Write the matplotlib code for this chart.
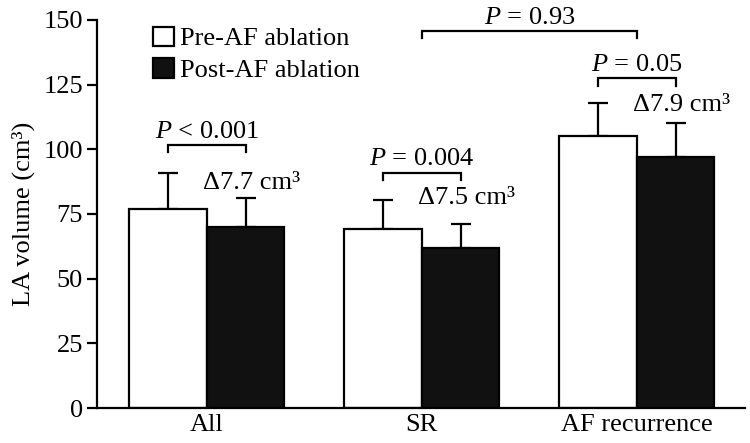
import matplotlib
matplotlib.use('Agg')
import numpy as np
import matplotlib.pyplot as plt

# ===========================
# Dados
# ===========================

groups = ['All', 'SR', 'AF recurrence']
pre_mean = [77, 69, 105]
post_mean = [70, 62, 97]
pre_sd = [14, 11.5, 12.7]
post_sd = [11, 9.2, 13]

delta_labels = ['Δ7.7 cm³', 'Δ7.5 cm³', 'Δ7.9 cm³']
delta_y = [87, 81, 117]

p_within = ['< 0.001', '= 0.004', '= 0.05']
p_within_y = [101.7, 91, 127.4]
p_between = '= 0.93'
p_between_y = 145.7

# ===========================
# Estilo
# ===========================

plt.rcParams['font.family'] = ['Liberation Serif', 'DejaVu Serif']
plt.rcParams['mathtext.fontset'] = 'custom'
plt.rcParams['mathtext.rm'] = 'Liberation Serif'
plt.rcParams['mathtext.it'] = 'Liberation Serif:italic'
plt.rcParams['font.size'] = 19

LW = 1.6
W = 0.36
LEG = 2.8

fig = plt.figure(figsize=(7.5, 4.43), dpi=100)
ax = fig.add_axes([0.129, 0.079, 0.864, 0.876])

x = np.arange(len(groups))
ax.bar(x - W / 2, pre_mean, W, color='white', edgecolor='black', linewidth=LW,
       label='Pre-AF ablation', zorder=2)
ax.bar(x + W / 2, post_mean, W, color='#111111', edgecolor='black', linewidth=LW,
       label='Post-AF ablation', zorder=2)
ax.errorbar(x - W / 2, pre_mean, yerr=[np.zeros(3), pre_sd], fmt='none',
            ecolor='black', elinewidth=LW, capsize=7.2, capthick=LW, zorder=1)
ax.errorbar(x + W / 2, post_mean, yerr=[np.zeros(3), post_sd], fmt='none',
            ecolor='black', elinewidth=LW, capsize=7.2, capthick=LW, zorder=1)


def bracket(x0, x1, y, label):
    ax.plot([x0, x0, x1, x1], [y - LEG, y, y, y - LEG], color='black',
            linewidth=LW, clip_on=False, solid_joinstyle='miter')
    ax.text((x0 + x1) / 2, y + 2.8, r'$P$ ' + label, ha='center', va='baseline',
            clip_on=False)


for i in range(len(groups)):
    bracket(i - W / 2, i + W / 2, p_within_y[i], p_within[i])
    ax.text(i - 0.02, delta_y[i], delta_labels[i], ha='left', va='center')

bracket(x[1], x[2], p_between_y, p_between)

ax.set_xlim(-0.512, 2.502)
ax.set_ylim(0, 150)
ax.set_yticks([0, 25, 50, 75, 100, 125, 150])
ax.set_xticks(x)
ax.set_xticklabels(groups)
ax.set_ylabel('LA volume (cm³)', labelpad=6)

ax.spines['top'].set_visible(False)
ax.spines['right'].set_visible(False)
ax.spines['left'].set_linewidth(LW)
ax.spines['bottom'].set_linewidth(LW)
ax.tick_params(axis='y', length=7, width=LW, direction='out', pad=3)
ax.tick_params(axis='x', length=0, pad=4)

ax.legend(loc='upper left', bbox_to_anchor=(0.071, 1.01), frameon=False,
          handlelength=0.8, handleheight=0.75, handletextpad=0.2,
          labelspacing=0.3, borderaxespad=0)

fig.savefig('out.png', dpi=100)
